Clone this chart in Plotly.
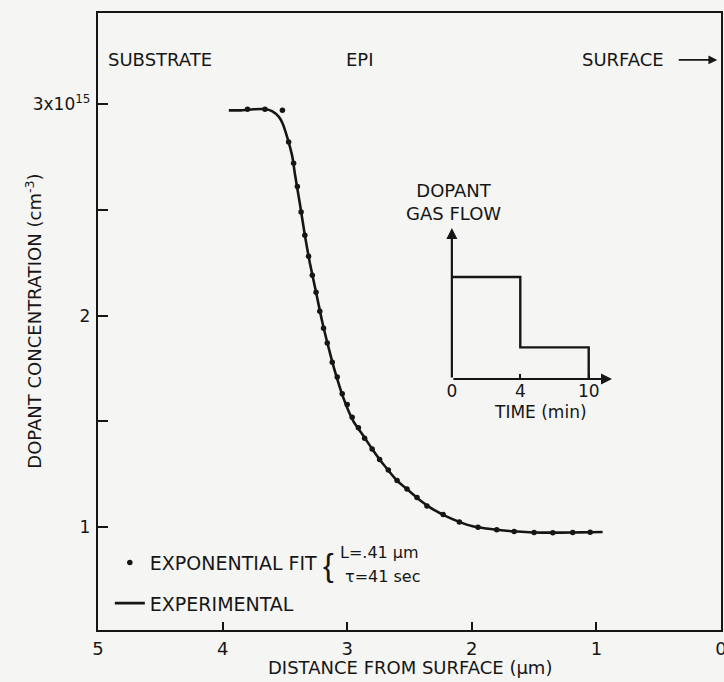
import plotly.graph_objects as go

# ---- data ----
exp_dist = [3.95, 3.85, 3.75, 3.65, 3.60, 3.55, 3.52, 3.48, 3.44, 3.42, 3.38, 3.34, 3.30,
            3.25, 3.20, 3.15, 3.10, 3.03, 2.95, 2.88, 2.80, 2.70, 2.60, 2.50, 2.40, 2.30,
            2.20, 2.10, 2.00, 1.90, 1.80, 1.70, 1.60, 1.50, 1.35, 1.20, 1.05, 0.95]
exp_conc = [2.97, 2.97, 2.975, 2.975, 2.965, 2.94, 2.91, 2.84, 2.75, 2.67, 2.53, 2.38, 2.25,
            2.11, 1.97, 1.85, 1.74, 1.61, 1.50, 1.44, 1.37, 1.29, 1.22, 1.17, 1.12, 1.08,
            1.05, 1.025, 1.005, 0.995, 0.988, 0.982, 0.978, 0.975, 0.974, 0.975, 0.976, 0.977]

fit_dist = [3.80, 3.66, 3.52, 3.47, 3.43, 3.40, 3.37, 3.34, 3.31, 3.28, 3.25, 3.22, 3.19,
            3.16, 3.12, 3.08, 3.04, 3.00, 2.96, 2.91, 2.86, 2.80, 2.74, 2.67, 2.60, 2.52,
            2.44, 2.36, 2.23, 2.10, 1.95, 1.80, 1.66, 1.50, 1.35, 1.19, 1.05]
fit_conc = [2.975, 2.975, 2.97, 2.82, 2.72, 2.61, 2.49, 2.38, 2.28, 2.19, 2.11, 2.02, 1.94,
            1.87, 1.78, 1.71, 1.63, 1.58, 1.52, 1.47, 1.42, 1.37, 1.32, 1.27, 1.22, 1.18,
            1.14, 1.10, 1.06, 1.025, 1.0, 0.988, 0.98, 0.975, 0.974, 0.975, 0.976]

x_ticks = [5, 4, 3, 2, 1, 0]
y_tickvals = [1, 1.5, 2, 2.5, 3]
y_ticktext = ["1", "", "2", "", "3x10<sup>15</sup>"]

inset_time = ["0", "4", "10"]        # schematic time axis (min)
inset_flow = [1.0, 0.31, 0.0]        # relative dopant gas flow

INK = "#161616"
BG = "#f5f5f3"
FONT = "DejaVu Sans"

fig = go.Figure()

fig.add_trace(go.Scatter(
    x=exp_dist, y=exp_conc, mode="lines", name="EXPERIMENTAL",
    line=dict(color=INK, width=2.6, shape="spline", smoothing=0.6),
    legendgroup="b", legendrank=2))
fig.add_trace(go.Scatter(
    x=fit_dist, y=fit_conc, mode="markers", name="EXPONENTIAL FIT",
    marker=dict(color=INK, size=5.5),
    legendgroup="a", legendrank=1))

# inset step
fig.add_trace(go.Scatter(
    x=inset_time, y=inset_flow, mode="lines", line=dict(color=INK, width=2.4, shape="hv"),
    xaxis="x2", yaxis="y2", showlegend=False))

fig.update_layout(
    width=724, height=682,
    margin=dict(l=98, r=3, t=13, b=52, autoexpand=False),
    paper_bgcolor=BG, plot_bgcolor=BG,
    font=dict(family=FONT, color=INK, size=16),
    showlegend=True,
    legend=dict(x=0.019, y=0.140, xanchor="left", yanchor="top",
                bgcolor="rgba(0,0,0,0)", font=dict(size=19, family=FONT),
                tracegroupgap=13, traceorder="grouped"),
    xaxis=dict(range=[5, 0], tickvals=x_ticks, ticktext=[str(v) for v in x_ticks],
               showgrid=False, zeroline=False, showline=True, mirror=True, automargin=False,
               linecolor=INK, linewidth=2.4, ticks="inside", ticklen=8, tickwidth=2,
               tickcolor=INK, tickfont=dict(size=18), ticklabelstandoff=1,
               ticklabeloverflow="allow"),
    yaxis=dict(range=[0.514, 3.43], tickvals=y_tickvals, ticktext=y_ticktext,
               showgrid=False, zeroline=False, showline=True, mirror=True, automargin=False,
               linecolor=INK, linewidth=2.4, ticks="inside", ticklen=10, tickwidth=2,
               tickcolor=INK, tickfont=dict(size=17), ticklabelstandoff=2),
    xaxis2=dict(type="category", domain=[0.568, 0.825], range=[0, 2.34], anchor="y2",
                showgrid=False, zeroline=False, showline=False, ticks="inside", automargin=False,
                ticklen=5, tickwidth=2, tickcolor=INK, tickfont=dict(size=17)),
    yaxis2=dict(domain=[0.4068, 0.6515], range=[0, 1.48], anchor="x2", automargin=False,
                showgrid=False, zeroline=False, showline=False, showticklabels=False,
                ticks=""),
)

ann = []
def txt(x, y, t, size=18, xanchor="center", yanchor="middle", family=FONT, **kw):
    ann.append(dict(x=x, y=y, xref="paper", yref="paper", text=t, showarrow=False,
                    xanchor=xanchor, yanchor=yanchor,
                    font=dict(size=size, family=family, color=INK), **kw))

txt(0.0995, 0.924, "SUBSTRATE")
txt(0.4205, 0.924, "EPI")
txt(0.843, 0.924, "SURFACE")
ann.append(dict(x=0.994, y=0.924, xref="paper", yref="paper", ax=-40, ay=0, text="",
                showarrow=True, arrowhead=2, arrowsize=1.1, arrowwidth=1.6, arrowcolor=INK))

txt(-0.104, 0.5, "DOPANT CONCENTRATION (cm<sup>-3</sup>)", size=18, textangle=-90)
txt(0.5, -0.06, "DISTANCE FROM SURFACE (μm)", size=18)

# inset labels and axis arrows
txt(0.570, 0.693, "DOPANT<br>GAS FLOW", size=18)
txt(0.7095, 0.3533, "TIME (min)", size=17)
ann.append(dict(x=0, y=1.48, xref="x2", yref="y2", axref="x2", ayref="y2", ax=0, ay=0,
                text="", showarrow=True, arrowhead=2, arrowsize=1, arrowwidth=2.2, arrowcolor=INK))
ann.append(dict(x=2.34, y=0, xref="x2", yref="y2", axref="x2", ayref="y2", ax=0, ay=0,
                text="", showarrow=True, arrowhead=2, arrowsize=1, arrowwidth=2.2, arrowcolor=INK))

# fit parameters
txt(0.370, 0.1053, "{", size=32, family="Liberation Sans")
txt(0.386, 0.1264, "L=.41 μm", size=16, xanchor="left")
txt(0.393, 0.0859, "τ=41 sec", size=16, xanchor="left")

fig.update_layout(annotations=ann)
fig.write_html(
    "out.html",
    config={"displayModeBar": False},
    post_script="document.body.style.margin='0';document.body.style.background='%s';"
                "document.documentElement.style.overflow='hidden';" % BG)
